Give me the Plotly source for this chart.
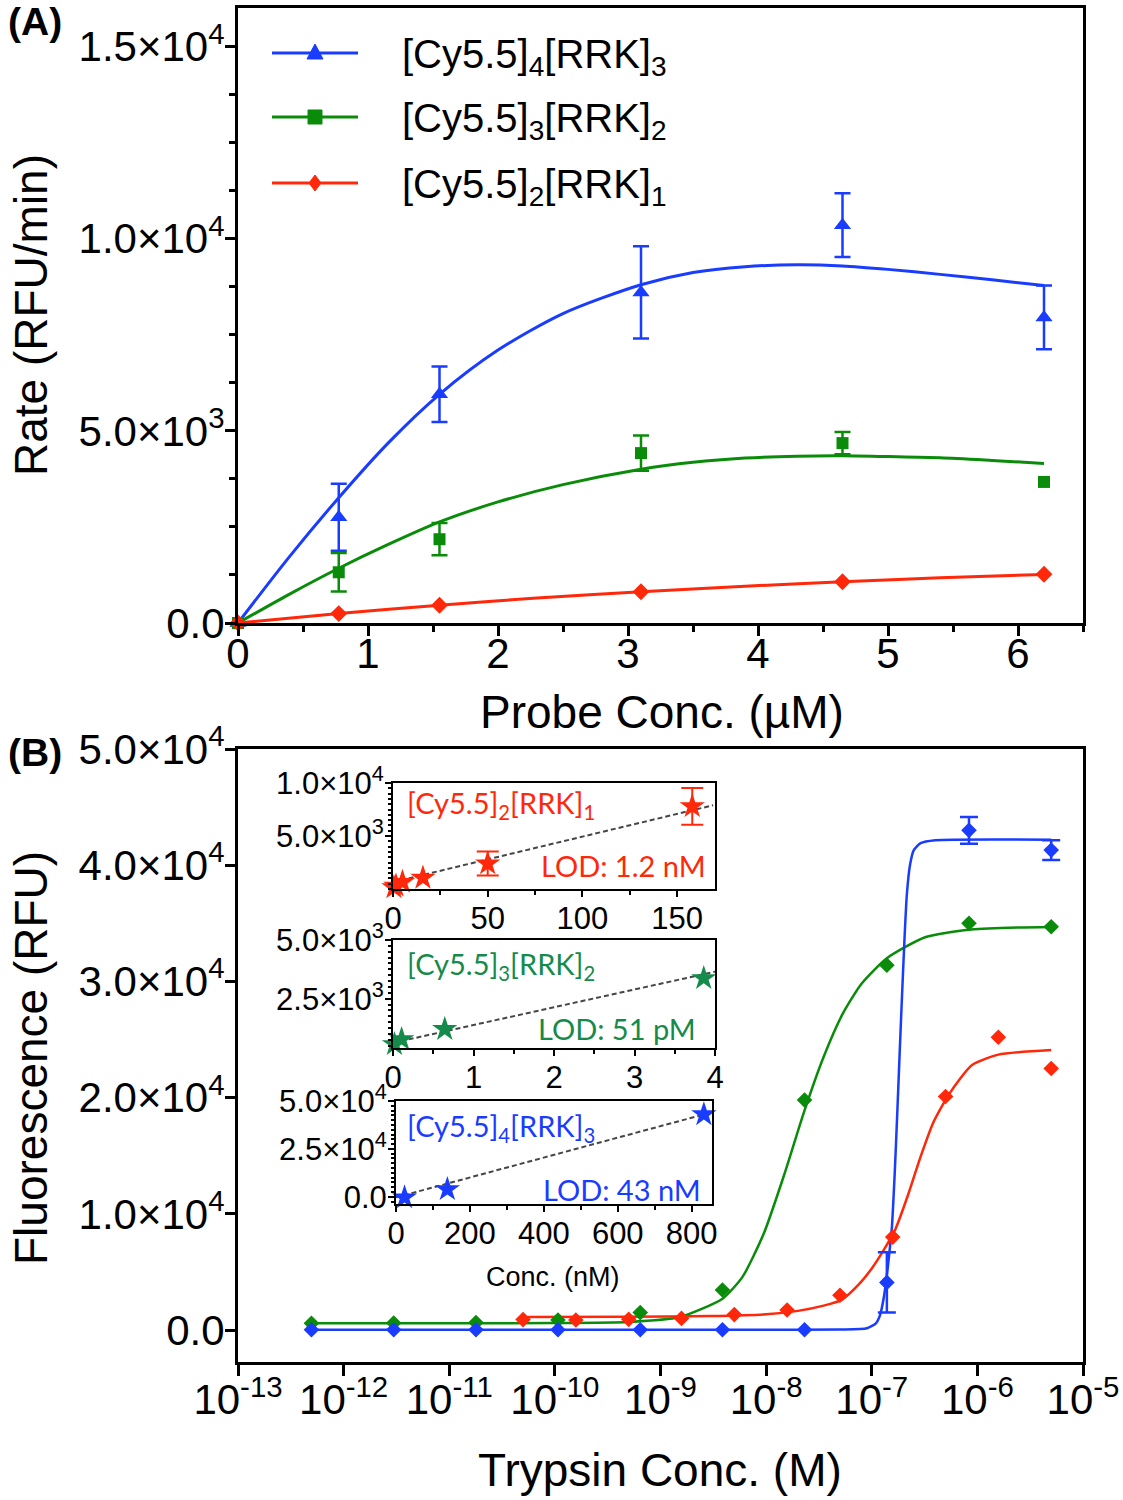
import plotly.graph_objects as go

W, H = 1123, 1500
def fx(p): return p / W
def fy(p): return 1 - p / H

FONT = "Liberation Sans, Arial, sans-serif"
CAL = "Lato, Open Sans, sans-serif"
BLUE = "rgb(25,60,255)"
GREEN = "rgb(10,140,10)"
RED = "rgb(255,40,10)"
IGREEN = "rgb(20,138,75)"

# ---------------- Panel A data ----------------
a_x = [0, 0.775, 1.55, 3.1, 4.65, 6.2]
a_blue = [0, 2750, 5950, 8600, 10350, 7950]
a_blue_err = [0, 870, 720, 1200, 830, 830]
a_green = [0, 1320, 2180, 4420, 4680, 3670]
a_green_err = [0, 500, 420, 460, 290, 0]
a_red = [0, 245, 463, 813, 1075, 1267]

a_fit_x = [0, 0.39, 0.775, 1.16, 1.55, 2.0, 2.5, 3.1, 3.5, 3.9, 4.3, 4.65, 5.0, 5.4, 5.8, 6.2]
a_fit_blue = [0, 1700, 3260, 4700, 5950, 7100, 8050, 8800, 9120, 9270, 9320, 9290, 9200, 9070, 8930, 8780]
a_fit_green = [0, 740, 1425, 2050, 2630, 3150, 3600, 4000, 4180, 4290, 4340, 4350, 4330, 4300, 4230, 4150]
a_fit_red_x = [0, 0.775, 1.55, 2.3, 3.1, 3.9, 4.65, 5.4, 6.2]
a_fit_red = [0, 245, 465, 650, 815, 955, 1075, 1175, 1265]

a_xticks = [0, 1, 2, 3, 4, 5, 6]
a_yticks = [0, 5000, 10000, 15000]
a_yticktext = ["0.0", "5.0×10<sup>3</sup>", "1.0×10<sup>4</sup>", "1.5×10<sup>4</sup>"]

legend_names = ["[Cy5.5]<sub>4</sub>[RRK]<sub>3</sub>",
                "[Cy5.5]<sub>3</sub>[RRK]<sub>2</sub>",
                "[Cy5.5]<sub>2</sub>[RRK]<sub>1</sub>"]

# ---------------- Panel B data ----------------
b_x = [4.96e-13, 2.98e-12, 1.79e-11, 1.07e-10, 6.43e-10, 3.86e-9, 2.31e-8, 1.39e-7, 8.33e-7, 5.0e-6]
b_blue = [30, 30, 30, 30, 30, 30, 30, 4100, 43000, 41300]
b_blue_err = [0, 0, 0, 0, 0, 0, 0, 2600, 1150, 850]
b_green = [575, 600, 650, 860, 1500, 3440, 19800, 31400, 35000, 34700]
b_x_red = [5e-11, 1.58e-10, 5e-10, 1.58e-9, 5e-9, 1.58e-8, 5e-8, 1.58e-7, 5e-7, 1.58e-6, 5e-6]
b_red = [900, 870, 920, 1000, 1330, 1720, 3000, 8000, 20100, 25200, 22500]

b_fit_blue_x = [4.96e-13, 1e-8, 5e-8, 9e-8, 1.1e-7, 1.2e-7, 1.3e-7, 1.39e-7, 1.47e-7, 1.55e-7, 1.65e-7,
                1.75e-7, 1.85e-7, 1.95e-7, 2.05e-7, 2.15e-7, 2.3e-7, 2.5e-7, 2.9e-7, 4e-7, 5e-6]
b_fit_blue = [30, 30, 50, 150, 600, 1300, 2800, 4700, 6700, 8800, 13500,
              19000, 24500, 29500, 34000, 37500, 40000, 41300, 41900, 42150, 42200]
b_fit_green_x = [4.96e-13, 1e-11, 1e-10, 5e-10, 1.5e-9, 3.86e-9, 6e-9, 9.5e-9, 1.5e-8, 2.31e-8,
                 3.5e-8, 5.3e-8, 8e-8, 1.39e-7, 3.2e-7, 8.3e-7, 2e-6, 5e-6]
b_fit_green = [580, 585, 600, 700, 1100, 2700, 4600, 8300, 13500, 18900,
               23500, 27200, 29800, 32000, 33800, 34450, 34620, 34680]
b_fit_red_x = [5e-11, 5e-10, 3e-9, 1e-8, 2e-8, 3.5e-8, 5.2e-8, 7.5e-8, 1e-7, 1.3e-7, 1.66e-7,
               2.2e-7, 2.87e-7, 3.8e-7, 5.4e-7, 8.9e-7, 1.58e-6, 5e-6]
b_fit_red = [1130, 1140, 1200, 1350, 1650, 2100, 2600, 3900, 5300, 6900, 8600,
             11600, 14800, 17800, 20300, 22800, 23700, 24100]

b_xticks = [1e-13, 1e-12, 1e-11, 1e-10, 1e-9, 1e-8, 1e-7, 1e-6, 1e-5]
b_xticktext = ["10<sup>-13</sup>", "10<sup>-12</sup>", "10<sup>-11</sup>", "10<sup>-10</sup>",
               "10<sup>-9</sup>", "10<sup>-8</sup>", "10<sup>-7</sup>", "10<sup>-6</sup>", "10<sup>-5</sup>"]
b_yticks = [0, 10000, 20000, 30000, 40000, 50000]
b_yticktext = ["0.0", "1.0×10<sup>4</sup>", "2.0×10<sup>4</sup>", "3.0×10<sup>4</sup>",
               "4.0×10<sup>4</sup>", "5.0×10<sup>4</sup>"]

# ---------------- Inset data ----------------
i1_x = [0.5, 1.58, 5, 15.8, 50, 158]
i1_y = [150, 300, 650, 1050, 2400, 7800]
i1_err = [0, 0, 0, 0, 1130, 1730]
i1_fit_x = [0, 169]
i1_fit_y = [650, 7900]
i1_xticks = [0, 50, 100, 150]
i1_yticks = [5000, 10000]
i1_yticktext = ["5.0×10<sup>3</sup>", "1.0×10<sup>4</sup>"]

i2_x = [0.0179, 0.107, 0.643, 3.86]
i2_y = [560, 770, 1200, 3370]
i2_fit_x = [0, 4]
i2_fit_y = [620, 3650]
i2_xticks = [0, 1, 2, 3, 4]
i2_yticks = [2500, 5000]
i2_yticktext = ["2.5×10<sup>3</sup>", "5.0×10<sup>3</sup>"]

i3_x = [23.1, 139, 833]
i3_y = [-400, 3860, 42980]
i3_fit_x = [0, 850]
i3_fit_y = [-350, 43860]
i3_xticks = [0, 200, 400, 600, 800]
i3_yticks = [0, 25000, 50000]
i3_yticktext = ["0.0", "2.5×10<sup>4</sup>", "5.0×10<sup>4</sup>"]

fig = go.Figure()

# ---- Panel A curves ----
for fxs, fys, col in [(a_fit_x, a_fit_blue, BLUE), (a_fit_x, a_fit_green, GREEN), (a_fit_red_x, a_fit_red, RED)]:
    fig.add_trace(go.Scatter(x=fxs, y=fys, mode="lines", line=dict(color=col, width=3, shape="spline", smoothing=0.8),
                             xaxis="x", yaxis="y", showlegend=False, hoverinfo="skip"))

def split(xs, ys, es):
    wi = [i for i, e in enumerate(es) if e > 0]
    wo = [i for i, e in enumerate(es) if e <= 0]
    return ([xs[i] for i in wi], [ys[i] for i in wi], [es[i] for i in wi],
            [xs[i] for i in wo], [ys[i] for i in wo])

def add_points(xs, ys, es, col, symbol, size, xa, ya, ew=8, eth=2.5):
    ex, ey, ee, nx, ny = split(xs, ys, es)
    if ex:
        fig.add_trace(go.Scatter(x=ex, y=ey, mode="markers", marker=dict(color=col, symbol=symbol, size=size),
                                 error_y=dict(type="data", array=ee, visible=True, color=col, thickness=eth, width=ew),
                                 xaxis=xa, yaxis=ya, showlegend=False, cliponaxis=False))
    if nx:
        fig.add_trace(go.Scatter(x=nx, y=ny, mode="markers", marker=dict(color=col, symbol=symbol, size=size),
                                 xaxis=xa, yaxis=ya, showlegend=False, cliponaxis=False))

add_points(a_x, a_blue, a_blue_err, BLUE, "triangle-up", 15, "x", "y")
add_points(a_x, a_green, a_green_err, GREEN, "square", 12, "x", "y")
add_points(a_x, a_red, [0] * len(a_red), RED, "diamond", 13, "x", "y")

# ---- Panel B ----
for fxs, fys, col in [(b_fit_green_x, b_fit_green, GREEN), (b_fit_red_x, b_fit_red, RED), (b_fit_blue_x, b_fit_blue, BLUE)]:
    fig.add_trace(go.Scatter(x=fxs, y=fys, mode="lines", line=dict(color=col, width=2.5, shape="spline", smoothing=0.6),
                             xaxis="x2", yaxis="y2", showlegend=False, hoverinfo="skip"))
add_points(b_x, b_green, [0] * len(b_green), GREEN, "diamond", 12, "x2", "y2")
add_points(b_x_red, b_red, [0] * len(b_red), RED, "diamond", 12, "x2", "y2")
add_points(b_x, b_blue, b_blue_err, BLUE, "diamond", 12, "x2", "y2", ew=9)

# ---- Insets ----
DASH = dict(color="rgb(70,70,70)", width=2, dash="5px,3px")
for fxs, fys, xa, ya in [(i1_fit_x, i1_fit_y, "x3", "y3"), (i2_fit_x, i2_fit_y, "x4", "y4"), (i3_fit_x, i3_fit_y, "x5", "y5")]:
    fig.add_trace(go.Scatter(x=fxs, y=fys, mode="lines", line=DASH, xaxis=xa, yaxis=ya, showlegend=False, hoverinfo="skip"))
add_points(i1_x, i1_y, i1_err, RED, "star", 19, "x3", "y3", ew=11, eth=2)
add_points(i2_x, i2_y, [0] * len(i2_y), IGREEN, "star", 19, "x4", "y4")
add_points(i3_x, i3_y, [0] * len(i3_y), BLUE, "star", 19, "x5", "y5")

def main_axis(**kw):
    d = dict(showline=True, linewidth=3, linecolor="black", mirror=True, ticks="outside", ticklen=10,
             tickwidth=2.5, tickcolor="black", showgrid=False, zeroline=False, automargin=False,
             tickfont=dict(family=FONT, size=42, color="black"))
    d.update(kw)
    return d

def inset_axis(**kw):
    d = dict(showline=True, linewidth=2, linecolor="black", mirror=True, ticks="outside", ticklen=6,
             tickwidth=2, tickcolor="black", showgrid=False, zeroline=False, automargin=False,
             ticklabelstandoff=-5,
             tickfont=dict(family=FONT, size=31, color="black"))
    d.update(kw)
    return d

fig.update_layout(
    width=W, height=H, margin=dict(l=0, r=0, t=0, b=0, autoexpand=False),
    paper_bgcolor="white", plot_bgcolor="white", showlegend=False,
    xaxis=main_axis(domain=[fx(238), fx(1083)], anchor="y", range=[0, 6.5], tickmode="array", tickvals=a_xticks,
                    ticklabelstandoff=-18,
                    minor=dict(tickmode="linear", tick0=0, dtick=0.5, ticklen=6, tickwidth=2.5, ticks="outside")),
    yaxis=main_axis(domain=[fy(623), fy(8)], anchor="x", range=[0, 16000], tickmode="array", tickvals=a_yticks,
                    ticktext=a_yticktext, ticklabelstandoff=-8,
                    minor=dict(tickmode="linear", tick0=0, dtick=1250, ticklen=6, tickwidth=2.5, ticks="outside")),
    xaxis2=main_axis(domain=[fx(238), fx(1083)], anchor="y2", type="log", range=[-13, -5], tickmode="array",
                     tickvals=b_xticks, ticktext=b_xticktext, ticklen=11, ticklabelstandoff=-12),
    yaxis2=main_axis(domain=[fy(1362), fy(749)], anchor="x2", range=[-2750, 50000], tickmode="array",
                     tickvals=b_yticks, ticktext=b_yticktext, ticklabelstandoff=-8),
    xaxis3=inset_axis(domain=[fx(393), fx(715)], anchor="y3", range=[0, 170], tickmode="array", tickvals=i1_xticks,
                      minor=dict(tickmode="linear", tick0=0, dtick=25, ticklen=4, tickwidth=2, ticks="outside")),
    yaxis3=inset_axis(domain=[fy(889), fy(783)], anchor="x3", range=[0, 10000], tickmode="array", tickvals=i1_yticks,
                      ticktext=i1_yticktext,
                      minor=dict(tickmode="linear", tick0=0, dtick=500, ticklen=3, tickwidth=1.5, ticks="outside")),
    xaxis4=inset_axis(domain=[fx(393), fx(715)], anchor="y4", range=[0, 4], tickmode="array", tickvals=i2_xticks,
                      minor=dict(tickmode="linear", tick0=0, dtick=0.5, ticklen=4, tickwidth=2, ticks="outside")),
    yaxis4=inset_axis(domain=[fy(1048), fy(940)], anchor="x4", range=[400, 5000], tickmode="array", tickvals=i2_yticks,
                      ticktext=i2_yticktext,
                      minor=dict(tickmode="linear", tick0=0, dtick=250, ticklen=3, tickwidth=1.5, ticks="outside")),
    xaxis5=inset_axis(domain=[fx(396), fx(712)], anchor="y5", range=[0, 855], tickmode="array", tickvals=i3_xticks,
                      minor=dict(tickmode="linear", tick0=0, dtick=100, ticklen=4, tickwidth=2, ticks="outside")),
    yaxis5=inset_axis(domain=[fy(1204), fy(1101)], anchor="x5", range=[-3800, 50000], tickmode="array",
                      tickvals=i3_yticks, ticktext=i3_yticktext,
                      minor=dict(tickmode="linear", tick0=0, dtick=2500, ticklen=3, tickwidth=1.5, ticks="outside")),
)

ann = []
def A(x, y, text, size, color="black", family=FONT, xanchor="center", angle=0, bold=False):
    if bold:
        text = "<b>" + text + "</b>"
    ann.append(dict(x=fx(x), y=fy(y), xref="paper", yref="paper", text=text, showarrow=False,
                    xanchor=xanchor, yanchor="middle", textangle=angle,
                    font=dict(family=family, size=size, color=color)))

A(35, 21, "(A)", 39, bold=True)
A(35, 752, "(B)", 39, bold=True)
A(31, 315, "Rate (RFU/min)", 46, angle=-90)
A(662, 712, "Probe Conc. (µM)", 46)
A(31, 1058, "Fluorescence (RFU)", 46, angle=-90)
A(660, 1470, "Trypsin Conc. (M)", 46)
A(553, 1277, "Conc. (nM)", 27)

# inset labels
A(405, 805, legend_names[2], 29, RED, CAL, "left")
A(708, 865, "LOD: 1.2 nM", 29, RED, CAL, "right")
A(405, 965, legend_names[1], 29, IGREEN, CAL, "left")
A(698, 1028, "LOD: 51 pM", 29, IGREEN, CAL, "right")
A(405, 1127, legend_names[0], 29, BLUE, CAL, "left")
A(703, 1189, "LOD: 43 nM", 29, BLUE, CAL, "right")

# manual legend for panel A
shapes = []
leg_rows = [(53, BLUE, "tri"), (117, GREEN, "sq"), (183, RED, "dia")]
for i, (yy, col, kind) in enumerate(leg_rows):
    shapes.append(dict(type="line", xref="paper", yref="paper", x0=fx(272), x1=fx(358), y0=fy(yy), y1=fy(yy),
                       line=dict(color=col, width=3)))
    cx = 315
    if kind == "tri":
        pts = [(cx, yy - 9), (cx - 8, yy + 6), (cx + 8, yy + 6)]
    elif kind == "sq":
        pts = [(cx - 7, yy - 7), (cx + 7, yy - 7), (cx + 7, yy + 7), (cx - 7, yy + 7)]
    else:
        pts = [(cx, yy - 8), (cx + 6, yy), (cx, yy + 8), (cx - 6, yy)]
    path = "M " + " L ".join(f"{fx(px):.5f},{fy(py):.5f}" for px, py in pts) + " Z"
    shapes.append(dict(type="path", xref="paper", yref="paper", path=path, fillcolor=col, line=dict(color=col, width=1)))
    A(400, yy + 4, legend_names[i], 40, "black", FONT, "left")

fig.update_layout(annotations=ann, shapes=shapes)
fig.write_html("out.html", config={"displayModeBar": False},
               post_script="document.body.style.margin='0px';document.body.style.overflow='hidden';")
